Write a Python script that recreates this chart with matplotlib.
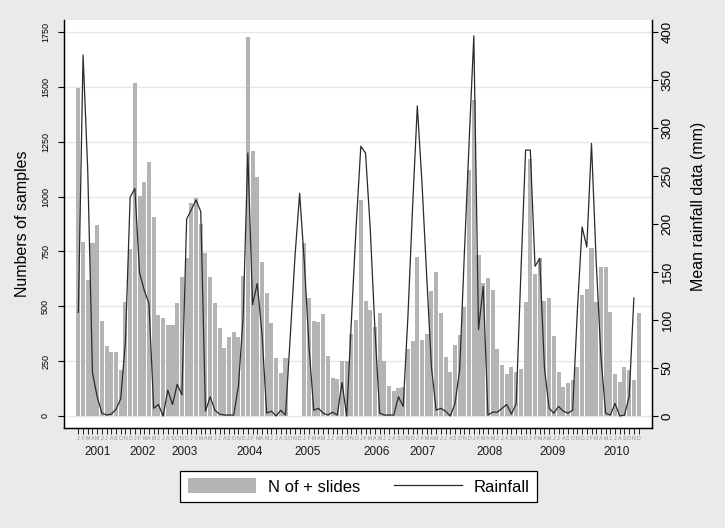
import numpy as np
import matplotlib
matplotlib.use("Agg")
import matplotlib.pyplot as plt
from matplotlib.patches import Patch
from matplotlib.lines import Line2D
from matplotlib.transforms import blended_transform_factory

plt.rcParams['font.family'] = ['Liberation Sans', 'DejaVu Sans']

nan = np.nan
years = [2001, 2002, 2003, 2004, 2005, 2006, 2007, 2008, 2009, 2010]
month_letters = ['J', 'F', 'M', 'A', 'M', 'J', 'J', 'A', 'S', 'O', 'N', 'D']
# where the year captions sit under the month ticks (month index)
year_label_pos = [4.0, 13.7, 22.6, 36.4, 48.8, 63.4, 73.2, 87.4, 100.8, 114.4]

# number of positive slides per month
samples_2001 = [1495, 794, 620, 790, 870, 433, 318, 290, 290, 208, 521, 762]
samples_2002 = [1519, 1003, 1066, 1156, 908, 460, 448, 415, 415, 513, 635, 719]
samples_2003 = [969, 992, 875, 744, 635, 513, 403, 311, 359, 384, 362, 638]
samples_2004 = [1726, 1209, 1090, 700, 559, 422, 263, 197, 263, nan, nan, nan]
samples_2005 = [790, 536, 433, 427, 465, 273, 175, 169, 252, 252, 372, 437]
samples_2006 = [984, 524, 483, 407, 471, 251, 137, 114, 126, 131, 305, 343]
samples_2007 = [723, 346, 372, 570, 658, 471, 267, 202, 324, 369, 498, 1121]
samples_2008 = [1440, 734, 606, 627, 574, 304, 232, 190, 222, 202, 212, 520]
samples_2009 = [1170, 646, 722, 525, 536, 365, 200, 130, 151, 164, 224, 551]
samples_2010 = [577, 764, 518, 677, 677, 475, 190, 157, 225, 210, 164, 471]

# mean rainfall (mm) per month
rain_2001 = [108, 376, 255, 45, 20, 3, 1, 2, 7, 18, 78, 228]
rain_2002 = [237, 149, 131, 117, 8, 12, 0, 27, 12, 33, 22, 205]
rain_2003 = [215, 225, 213, 5, 20, 6, 2, 1, 1, 1, 31, 103]
rain_2004 = [274, 116, 138, 86, 3, 5, 0, 6, 1, 82, 165, 232]
rain_2005 = [160, 72, 6, 8, 3, 1, 4, 1, 35, 0, 100, 197]
rain_2006 = [281, 274, 195, 90, 3, 1, 1, 1, 20, 10, 103, 218]
rain_2007 = [323, 242, 145, 51, 6, 8, 5, 0, 13, 48, 170, 285]
rain_2008 = [396, 90, 135, 1, 4, 4, 8, 12, 2, 13, 149, 277]
rain_2009 = [277, 156, 164, 50, 8, 3, 10, 5, 3, 6, 110, 197]
rain_2010 = [176, 284, 160, 62, 3, 1, 13, 0, 1, 20, 123, nan]

samples = np.array(samples_2001 + samples_2002 + samples_2003 + samples_2004 + samples_2005
                   + samples_2006 + samples_2007 + samples_2008 + samples_2009 + samples_2010)
rain = np.array(rain_2001 + rain_2002 + rain_2003 + rain_2004 + rain_2005
                + rain_2006 + rain_2007 + rain_2008 + rain_2009 + rain_2010)
months = np.arange(len(samples))

bg = '#eaeaea'
fig = plt.figure(figsize=(7.25, 5.28), dpi=100, facecolor=bg)
ax = fig.add_axes([64 / 725, 1 - 428 / 528, 588 / 725, 408 / 528])
ax.set_facecolor('white')
ax2 = ax.twinx()

ax.bar(months, samples, width=0.86, color='#b4b4b4', linewidth=0)
ax2.plot(months, rain, color='#2a2a2a', lw=0.9)

ax.set_xlim(-3.05, 121.85)
ax.set_ylim(-54.7, 1804.7)
ax2.set_ylim(-12.5, 412.5)

ax.set_yticks(range(0, 1751, 250))
ax2.set_yticks(range(0, 401, 50))
ax.yaxis.grid(True, color='#e6e6e6', lw=1)
ax.set_axisbelow(True)

ax.tick_params(axis='y', labelsize=6.5, length=4, width=0.8, pad=6, labelrotation=90)
for t in ax.get_yticklabels():
    t.set_va('center')
ax2.tick_params(axis='y', labelsize=9.5, length=4, width=0.8, pad=3, labelrotation=90)
for t in ax2.get_yticklabels():
    t.set_va('center')

ax.set_xticks(months)
ax.set_xticklabels(month_letters * len(years), fontsize=3.8, color='#8a8a8a')
ax.tick_params(axis='x', length=4, width=0.6, pad=1.5)

trans = blended_transform_factory(ax.transData, ax.transAxes)
for yr, pos in zip(years, year_label_pos):
    ax.text(pos, -0.059, str(yr), transform=trans, ha='center', va='center',
            fontsize=8.5, color='#1a1a1a')

ax.set_ylabel('Numbers of samples', fontsize=11.5)
ax.yaxis.set_label_coords(-0.058, 0.5)
ax2.set_ylabel('Mean rainfall data (mm)', fontsize=11.5, rotation=90)
ax2.yaxis.set_label_coords(1.066, 0.544)

for a in (ax, ax2):
    a.spines['top'].set_visible(False)
    for s in ('left', 'right', 'bottom'):
        a.spines[s].set_linewidth(0.9)
        a.spines[s].set_color('black')

handles = [Patch(facecolor='#b4b4b4', edgecolor='none', label='N of + slides'),
           Line2D([], [], color='#2a2a2a', lw=0.9, label='Rainfall')]
leg = fig.legend(handles=handles, loc='center', bbox_to_anchor=(0.495, 0.0786),
                 bbox_transform=fig.transFigure, ncol=2, fontsize=12,
                 frameon=True, fancybox=False, edgecolor='black', facecolor='white',
                 framealpha=1, handlelength=4.1, handleheight=1.0,
                 handletextpad=0.72, columnspacing=2.0, borderpad=0.45)
leg.get_frame().set_linewidth(0.9)

fig.savefig('out.png', dpi=100, facecolor=bg)
